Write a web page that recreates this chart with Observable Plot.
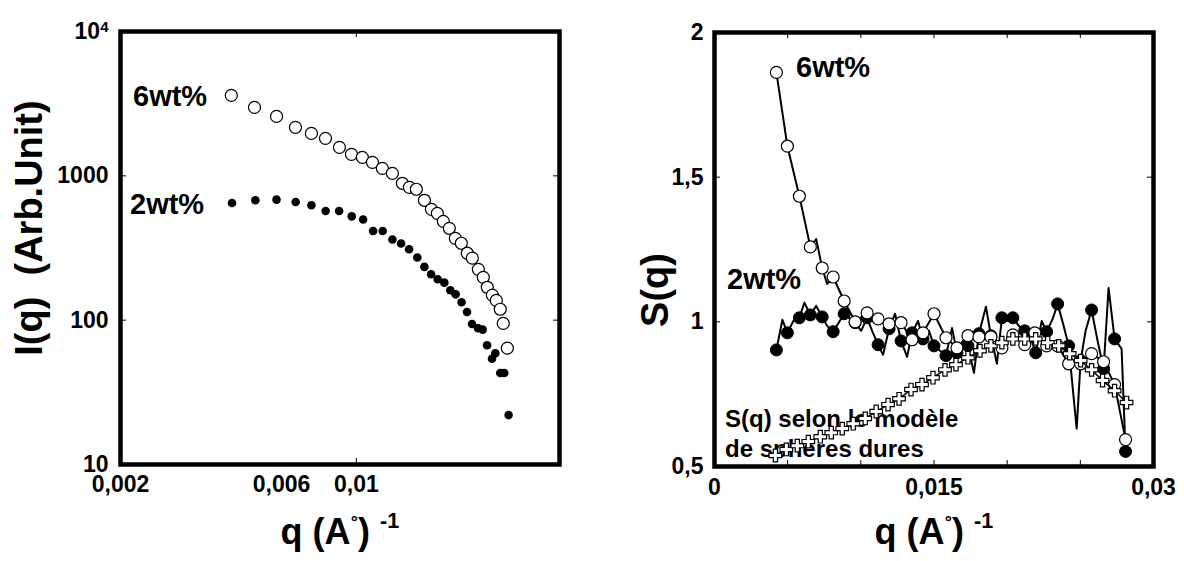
<!DOCTYPE html>
<html><head><meta charset="utf-8">
<script src="https://cdn.jsdelivr.net/npm/d3@7"></script>
<script src="https://cdn.jsdelivr.net/npm/@observablehq/plot@0.6"></script>
<style>
body{margin:0;background:#fff;font-family:"Liberation Sans",Arial,sans-serif;}
#wrap{position:relative;width:1184px;height:561px;overflow:hidden;background:#fff;}
.p{position:absolute;top:0;}
.t{position:absolute;font-weight:bold;color:#000;white-space:pre;line-height:1;font-family:"Liberation Sans",Arial,sans-serif;}
.ring{font-size:0.5em;position:relative;top:-0.9em;margin-left:0.02em;}
.sup{font-size:0.6em;position:relative;top:-0.75em;}
.rot{transform:translate(-50%,-50%) rotate(-90deg);}
</style></head><body><div id="wrap">
<div class="t" style="left:133px;top:82px;font-size:29px">6wt%</div>
<div class="t" style="left:130px;top:190px;font-size:29px">2wt%</div>
<div class="t" style="left:796px;top:53px;font-size:29px">6wt%</div>
<div class="t" style="left:727px;top:265px;font-size:29px">2wt%</div>
<div class="t" style="left:725px;top:407px;font-size:24px">S(q) selon le modèle</div>
<div class="t" style="left:725px;top:437px;font-size:24px">de sphères dures</div>
<div class="t" id="xt1" style="top:514px;font-size:36px">q (A<span class="ring">°</span>) <span class="sup">-1</span></div>
<div class="t" id="xt2" style="top:514px;font-size:36px">q (A<span class="ring">°</span>) <span class="sup">-1</span></div>
<div class="t rot" style="left:29px;top:228px;font-size:38px">I(q)  (Arb.Unit)</div>
<div class="t rot" style="left:655px;top:290px;font-size:38px">S(q)</div>
<div class="p" id="left" style="left:0px"></div>
<div class="p" id="right" style="left:600px"></div>
</div>
<script>
// ---- Left panel: I(q) vs q (log-log) ----
const q6L = [0.00426,0.00499,0.00580,0.00660,0.00736,0.00810,0.00891,0.00967,0.01042,0.01116,0.01194,0.01279,0.01369,0.01436,0.01506,0.01591,0.01669,0.01738,0.01810,0.01886,0.01965,0.02047,0.02132,0.02206,0.02299,0.02378,0.02444,0.02530,0.02599,0.02670,0.02725,0.02802];
const I6L = [3606,2979,2581,2167,1968,1818,1575,1409,1343,1240,1127,1041,888,832,807,677,586,550,484,433,369,341,291,269,225,198,169,149,137,119,95,64];
const q2L = [0.00428,0.00502,0.00580,0.00661,0.00736,0.00811,0.00889,0.00969,0.01047,0.01121,0.01197,0.01279,0.01357,0.01433,0.01516,0.01591,0.01665,0.01742,0.01823,0.01899,0.01969,0.02050,0.02128,0.02202,0.02294,0.02368,0.02440,0.02524,0.02582,0.02670,0.02744,0.02826];
const I2L = [648,677,684,659,625,571,571,524,498,415,415,362,340,310,272,234,208,192,182,161,151,133,114,94,88,86,67,54,59,43,43,22];
const leftXTicks = [0.002,0.006,0.01];
const leftXInner = [0.01];
const leftYTicks = [10,100,1000,10000];
const leftYInner = [100,1000];

// ---- Right panel: S(q) vs q ----
const q6R = [0.00423,0.00498,0.00580,0.00655,0.00736,0.00811,0.00886,0.00961,0.01043,0.01118,0.01193,0.01275,0.01350,0.01425,0.01500,0.01582,0.01657,0.01732,0.01807,0.01889,0.01964,0.02039,0.02120,0.02189,0.02270,0.02345,0.02420,0.02502,0.02577,0.02659,0.02734,0.02809];
const S6R = [1.862,1.607,1.434,1.259,1.186,1.155,1.072,1.000,1.031,1.010,0.993,0.997,0.938,0.962,1.028,0.945,0.910,0.952,0.948,0.948,0.910,0.955,0.921,0.962,0.917,0.917,0.855,0.855,0.890,0.862,0.783,0.593];
const q2R = [0.00423,0.00498,0.00580,0.00655,0.00736,0.00811,0.00886,0.00961,0.01043,0.01118,0.01193,0.01275,0.01350,0.01425,0.01500,0.01582,0.01657,0.01732,0.01807,0.01889,0.01964,0.02039,0.02120,0.02195,0.02270,0.02345,0.02420,0.02502,0.02577,0.02659,0.02734,0.02809];
const S2R = [0.903,0.962,1.014,1.024,1.017,0.966,1.028,0.997,1.014,0.921,0.976,0.934,0.962,0.941,0.917,0.883,0.893,0.917,0.959,0.952,1.014,1.014,0.969,0.893,0.966,1.062,0.917,0.866,1.041,0.838,0.941,0.552];
const qLine6 = [0.00423,0.00498,0.00580,0.00655,0.00695,0.00736,0.00770,0.00811,0.00886,0.00961,0.01043,0.01118,0.01193,0.01275,0.01350,0.01425,0.01500,0.01582,0.01657,0.01732,0.01807,0.01889,0.01964,0.02039,0.02120,0.02189,0.02270,0.02345,0.02420,0.02502,0.02577,0.02659,0.02734,0.02809];
const SLine6 = [1.862,1.607,1.434,1.259,1.286,1.186,1.131,1.155,1.072,1.000,1.031,1.010,0.993,0.997,0.938,0.962,1.028,0.945,0.910,0.952,0.948,0.948,0.910,0.955,0.921,0.962,0.917,0.917,0.855,0.855,0.890,0.862,0.783,0.593];
const qLine2 = [0.00423,0.00464,0.00498,0.00539,0.00580,0.00614,0.00655,0.00695,0.00736,0.00770,0.00811,0.00886,0.00927,0.00961,0.01002,0.01043,0.01077,0.01118,0.01152,0.01193,0.01234,0.01275,0.01316,0.01350,0.01391,0.01425,0.01466,0.01500,0.01541,0.01582,0.01623,0.01657,0.01698,0.01732,0.01773,0.01807,0.01855,0.01889,0.01930,0.01964,0.02005,0.02039,0.02080,0.02120,0.02154,0.02195,0.02236,0.02270,0.02311,0.02345,0.02386,0.02420,0.02475,0.02502,0.02536,0.02577,0.02618,0.02659,0.02693,0.02734,0.02782,0.02809];
const SLine2 = [0.903,1.007,0.962,1.003,1.014,1.066,1.024,1.055,1.017,0.986,0.966,1.028,1.010,0.997,0.969,1.014,0.969,0.921,0.886,0.976,1.028,0.934,0.879,0.962,1.003,0.941,0.969,0.917,0.900,0.883,0.979,0.893,0.934,0.917,0.824,0.959,1.052,0.952,0.855,1.014,1.003,1.014,0.986,0.969,0.952,0.893,1.003,0.966,1.010,1.062,0.986,0.917,0.631,0.866,0.969,1.041,0.934,0.838,1.117,0.941,0.907,0.552];
const qHS = [0.00416,0.00491,0.00566,0.00641,0.00723,0.00798,0.00873,0.00948,0.01030,0.01105,0.01186,0.01261,0.01343,0.01418,0.01493,0.01575,0.01650,0.01732,0.01814,0.01889,0.01964,0.02039,0.02120,0.02195,0.02277,0.02352,0.02427,0.02502,0.02577,0.02652,0.02734,0.02816];
const SHS = [0.538,0.559,0.572,0.586,0.603,0.617,0.631,0.648,0.666,0.690,0.714,0.734,0.766,0.783,0.807,0.834,0.852,0.876,0.900,0.917,0.928,0.941,0.941,0.941,0.928,0.917,0.890,0.866,0.834,0.797,0.762,0.721];
const rightXTicks = [0,0.015,0.03];
const rightXInner = [0.005,0.01,0.015,0.02,0.025];
const rightYTicks = [0.5,1,1.5,2];
const rightYInner = [1,1.5];

const zip = (xs, ys, kx, ky) => xs.map((v, i) => ({[kx]: v, [ky]: ys[i]}));
const comma = d => String(d).replace(".", ",");
const style = {fontFamily: "'Liberation Sans', Arial, sans-serif", fontSize: "23px", fontWeight: "bold", color: "#000", background: "transparent", overflow: "visible"};
const TICK = 6;

// Left plot
{
  const W = 590, H = 520, mL = 120, mT = 31, mR = 31, mB = 56;
  const iw = W - mL - mR, ih = H - mT - mB;
  const left = Plot.plot({
    width: W, height: H, marginLeft: mL, marginTop: mT, marginRight: mR, marginBottom: mB,
    style,
    x: {type: "log", domain: [0.002, 0.04], ticks: leftXTicks, tickFormat: comma, tickSize: 0, tickPadding: 11, label: null},
    y: {type: "log", domain: [10, 10000], ticks: leftYTicks, tickFormat: d => d === 10000 ? "10⁴" : String(d), tickSize: 0, tickPadding: 12, label: null},
    marks: [
      Plot.ruleX(leftXInner, {x: d => d, insetBottom: ih - TICK, stroke: "black", strokeWidth: 1}),
      Plot.ruleX(leftXInner, {x: d => d, insetTop: ih - TICK, stroke: "black", strokeWidth: 1}),
      Plot.ruleY(leftYInner, {y: d => d, insetRight: iw - TICK, stroke: "black", strokeWidth: 1}),
      Plot.ruleY(leftYInner, {y: d => d, insetLeft: iw - TICK, stroke: "black", strokeWidth: 1}),
      Plot.dot(zip(q2L, I2L, "q", "I"), {x: "q", y: "I", r: 4.3, fill: "black", stroke: "none"}),
      Plot.dot(zip(q6L, I6L, "q", "I"), {x: "q", y: "I", r: 6, fill: "white", stroke: "black", strokeWidth: 1.2}),
      Plot.frame({stroke: "black", strokeWidth: 4.5})
    ]
  });
  document.getElementById("left").appendChild(left);
  left.querySelectorAll("text").forEach(t => {
    if (t.textContent === "10⁴") {
      t.textContent = "10";
      const ts = document.createElementNS("http://www.w3.org/2000/svg", "tspan");
      ts.setAttribute("dy", "-0.45em");
      ts.setAttribute("font-size", "15px");
      ts.textContent = "4";
      t.appendChild(ts);
    }
  });
}

// Right plot
{
  const W = 584, H = 520, mL = 114, mT = 32, mR = 31, mB = 54;
  const iw = W - mL - mR, ih = H - mT - mB;
  const right = Plot.plot({
    width: W, height: H, marginLeft: mL, marginTop: mT, marginRight: mR, marginBottom: mB,
    style,
    x: {domain: [0, 0.03], ticks: rightXTicks, tickFormat: comma, tickSize: 0, tickPadding: 12, label: null},
    y: {domain: [0.5, 2], ticks: rightYTicks, tickFormat: comma, tickSize: 0, tickPadding: 11, label: null},
    marks: [
      Plot.ruleX(rightXInner, {x: d => d, insetBottom: ih - TICK, stroke: "black", strokeWidth: 1}),
      Plot.ruleX(rightXInner, {x: d => d, insetTop: ih - TICK, stroke: "black", strokeWidth: 1}),
      Plot.ruleY(rightYInner, {y: d => d, insetRight: iw - TICK, stroke: "black", strokeWidth: 1}),
      Plot.ruleY(rightYInner, {y: d => d, insetLeft: iw - TICK, stroke: "black", strokeWidth: 1}),
      Plot.line(zip(qLine2, SLine2, "q", "S"), {x: "q", y: "S", stroke: "black", strokeWidth: 2}),
      Plot.line(zip(qLine6, SLine6, "q", "S"), {x: "q", y: "S", stroke: "black", strokeWidth: 2}),
      Plot.dot(zip(q2R, S2R, "q", "S"), {x: "q", y: "S", r: 6, fill: "black", stroke: "black", strokeWidth: 1}),
      Plot.dot(zip(q6R, S6R, "q", "S"), {x: "q", y: "S", r: 6, fill: "white", stroke: "black", strokeWidth: 1.2}),
      Plot.line(zip(qHS, SHS, "q", "S"), {x: "q", y: "S", stroke: "black", strokeWidth: 1.5}),
      Plot.dot(zip(qHS, SHS, "q", "S"), {x: "q", y: "S", symbol: "cross", r: 5.3, fill: "white", stroke: "black", strokeWidth: 1.2}),
      Plot.frame({stroke: "black", strokeWidth: 4.5})
    ]
  });
  document.getElementById("right").appendChild(right);
}

// center the x titles under each frame
function centerAt(id, cx) {
  const el = document.getElementById(id);
  el.style.left = (cx - el.offsetWidth / 2) + "px";
}
centerAt("xt1", 340);
centerAt("xt2", 934);
</script>
</body></html>
